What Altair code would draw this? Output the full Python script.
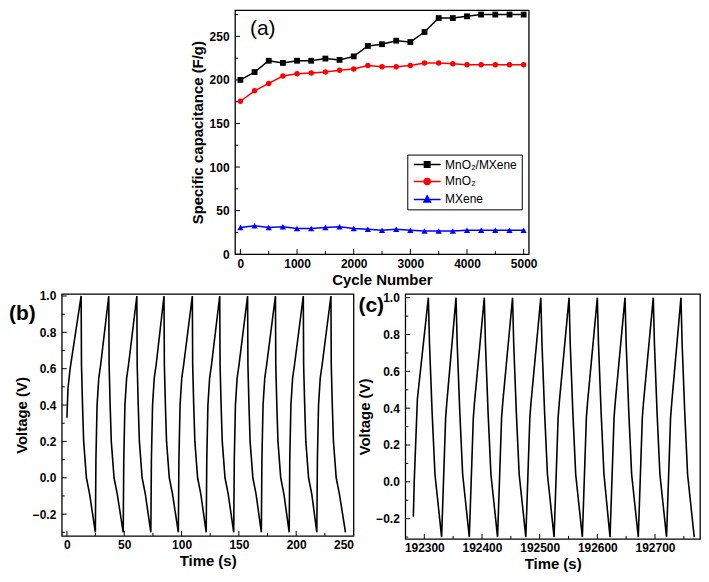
import altair as alt
import pandas as pd

FONT = "Liberation Sans"

# ---------------- panel (a) data ----------------
cycle_number = [0, 250, 500, 750, 1000, 1250, 1500, 1750, 2000, 2250, 2500,
                2750, 3000, 3250, 3500, 3750, 4000, 4250, 4500, 4750, 5000]
cap_mno2_mxene = [200, 209, 222, 219.5, 222, 222, 224.5, 223, 227, 239, 241,
                  245, 243.5, 255, 271, 271, 273, 275, 275, 275, 275]
cap_mno2 = [175.5, 187.5, 196, 204.5, 207, 208, 209, 211, 212.5, 216.5, 215,
            215, 216.5, 219.5, 219.5, 218.5, 217.5, 217.5, 217.5, 217.5, 217.5]
cap_mxene = [30.5, 32.5, 30.5, 31.5, 29.5, 29.5, 30.5, 31.5, 29.5, 28.5, 27.5,
             28.5, 27.5, 26.5, 26.5, 26.5, 27.5, 27.5, 27.5, 27.5, 27.5]
series_names = ["MnO₂/MXene", "MnO₂", "MXene"]
series_colors = ["#000000", "#ff0000", "#0000ff"]
series_shapes = ["square", "circle", "triangle-up"]
legend_paths = [
    "M-2.7,0H2.7M-0.55,-0.55H0.55V0.55H-0.55Z",
    "M-2.7,0H2.7M-0.6,0A0.6,0.6,0,1,1,0.6,0A0.6,0.6,0,1,1,-0.6,0Z",
    "M-2.7,0H2.7M0,-0.7L0.65,0.5H-0.65Z",
]

# ---------------- panel (b) data ----------------
b_time = [0.0, 0.9, 2.8, 12.4,
          12.7, 13.6, 14.6, 17.0, 19.8, 24.8, 25.3, 26.3, 27.8, 29.4, 36.5,
          36.8, 37.7, 38.7, 41.1, 43.9, 49.1, 49.6, 50.6, 52.1, 53.7, 61.0,
          61.3, 62.2, 63.2, 65.6, 68.4, 73.2, 73.7, 74.7, 76.2, 77.8, 84.7,
          85.0, 85.9, 86.9, 89.3, 92.1, 97.2, 97.7, 98.7, 100.2, 101.8, 109.4,
          109.7, 110.6, 111.6, 114.0, 116.8, 121.5, 122.0, 123.0, 124.5, 126.1, 133.3,
          133.6, 134.5, 135.5, 137.9, 140.7, 145.5, 146.0, 147.0, 148.5, 150.1, 157.6,
          157.9, 158.8, 159.8, 162.2, 165.0, 169.6, 170.1, 171.1, 172.6, 174.2, 181.9,
          182.2, 183.1, 184.1, 186.5, 189.3, 193.9, 194.4, 195.4, 196.9, 198.5, 206.2,
          206.5, 207.4, 208.4, 210.8, 213.6, 218.0, 218.5, 219.5, 221.0, 222.6, 230.3,
          230.6, 231.5, 232.5, 234.9, 237.7, 243.0]
b_volt = [0.33, 0.49, 0.60, 1.00,
          0.62, 0.40, 0.20, 0.00, -0.09, -0.30, 0.10, 0.40, 0.55, 0.62, 1.00,
          0.62, 0.40, 0.20, 0.00, -0.09, -0.30, 0.10, 0.40, 0.55, 0.62, 1.00,
          0.62, 0.40, 0.20, 0.00, -0.09, -0.30, 0.10, 0.40, 0.55, 0.62, 1.00,
          0.62, 0.40, 0.20, 0.00, -0.09, -0.30, 0.10, 0.40, 0.55, 0.62, 1.00,
          0.62, 0.40, 0.20, 0.00, -0.09, -0.30, 0.10, 0.40, 0.55, 0.62, 1.00,
          0.62, 0.40, 0.20, 0.00, -0.09, -0.30, 0.10, 0.40, 0.55, 0.62, 1.00,
          0.62, 0.40, 0.20, 0.00, -0.09, -0.30, 0.10, 0.40, 0.55, 0.62, 1.00,
          0.62, 0.40, 0.20, 0.00, -0.09, -0.30, 0.10, 0.40, 0.55, 0.62, 1.00,
          0.62, 0.40, 0.20, 0.00, -0.09, -0.30, 0.10, 0.40, 0.55, 0.62, 1.00,
          0.62, 0.40, 0.20, 0.00, -0.09, -0.30]

# ---------------- panel (c) data ----------------
c_time = [192281, 192282.5, 192288, 192307,
          192309, 192313.5, 192318.5, 192330, 192337, 192339, 192355,
          192357, 192361.5, 192366.5, 192378, 192385, 192387, 192404,
          192406, 192410.5, 192415.5, 192427, 192434, 192436, 192453,
          192455, 192459.5, 192464.5, 192476, 192483, 192485, 192502,
          192504, 192508.5, 192513.5, 192525, 192532, 192534, 192551,
          192553, 192557.5, 192562.5, 192574, 192581, 192583, 192600,
          192602, 192606.5, 192611.5, 192622, 192629, 192631, 192648,
          192650, 192654.5, 192659.5, 192671, 192678, 192680, 192697,
          192699, 192703.5, 192708.5, 192720, 192727, 192729, 192745,
          192747, 192751.5, 192756.5, 192768]
c_volt = [-0.19, 0.00, 0.45, 1.00,
          0.75, 0.38, 0.04, -0.30, 0.35, 0.43, 1.00,
          0.75, 0.38, 0.04, -0.30, 0.35, 0.43, 1.00,
          0.75, 0.38, 0.04, -0.30, 0.35, 0.43, 1.00,
          0.75, 0.38, 0.04, -0.30, 0.35, 0.43, 1.00,
          0.75, 0.38, 0.04, -0.30, 0.35, 0.43, 1.00,
          0.75, 0.38, 0.04, -0.30, 0.35, 0.43, 1.00,
          0.75, 0.38, 0.04, -0.30, 0.35, 0.43, 1.00,
          0.75, 0.38, 0.04, -0.30, 0.35, 0.43, 1.00,
          0.75, 0.38, 0.04, -0.30, 0.35, 0.43, 1.00,
          0.75, 0.38, 0.04, -0.30]

# tick values
a_x_major = [0, 1000, 2000, 3000, 4000, 5000]
a_x_minor = [500, 1500, 2500, 3500, 4500]
a_y_major = [0, 50, 100, 150, 200, 250]
a_y_minor = [25, 75, 125, 175, 225, 275]
b_x_major = [0, 50, 100, 150, 200, 250]
b_x_minor = [25, 75, 125, 175, 225]
v_major = [-0.2, 0.0, 0.2, 0.4, 0.6, 0.8, 1.0]
v_minor = [-0.3, -0.1, 0.1, 0.3, 0.5, 0.7, 0.9]
c_x_major = [192300, 192400, 192500, 192600, 192700]
c_x_minor = [192350, 192450, 192550, 192650, 192750]


def axis(title, values, fmt=None, label_pad=5, title_pad=3):
    kw = dict(title=title, values=values, ticks=False, tickSize=0, domain=False,
              grid=False, labelPadding=label_pad, titlePadding=title_pad)
    if fmt:
        kw["format"] = fmt
    return alt.Axis(**kw)


def inward_ticks(xf, xs, xax, xmaj, xmin, yf, ys, yax, ymaj, ymin, height):
    layers = []
    for vals, ln in ((xmaj, 5), (xmin, 3)):
        d = pd.DataFrame({xf: vals})
        layers.append(alt.Chart(d).mark_rule(color="black", strokeWidth=1).encode(
            x=alt.X(f"{xf}:Q", scale=xs, axis=xax),
            y=alt.value(height), y2=alt.value(height - ln)))
    for vals, ln in ((ymaj, 5), (ymin, 3)):
        d = pd.DataFrame({yf: vals})
        layers.append(alt.Chart(d).mark_rule(color="black", strokeWidth=1).encode(
            y=alt.Y(f"{yf}:Q", scale=ys, axis=yax),
            x=alt.value(0), x2=alt.value(ln)))
    return layers


def panel_label(text, x, y, size, weight):
    d = pd.DataFrame({"t": [text]})
    return alt.Chart(d).mark_text(align="left", baseline="top", font=FONT,
                                  fontSize=size, fontWeight=weight, color="black").encode(
        text="t:N", x=alt.value(x), y=alt.value(y))


# ---------------- panel (a) ----------------
rows = []
for name, vals in zip(series_names, [cap_mno2_mxene, cap_mno2, cap_mxene]):
    for cyc, v in zip(cycle_number, vals):
        rows.append({"cycle": cyc, "cap": v, "series": name})
df_a = pd.DataFrame(rows)

A_W, A_H = 295, 245
sx_a = alt.Scale(domain=[-95, 5090], nice=False, zero=False)
sy_a = alt.Scale(domain=[0, 280], nice=False, zero=False)
ax_a = axis("Cycle Number", a_x_major, fmt="d", label_pad=4, title_pad=3)
ay_a = axis("Specific capacitance (F/g)", a_y_major, label_pad=6, title_pad=4)
xa = alt.X("cycle:Q", scale=sx_a, axis=ax_a)
ya = alt.Y("cap:Q", scale=sy_a, axis=ay_a)

series_layers = []
for name, col, shp, sz in zip(series_names, series_colors, series_shapes, [34, 30, 40]):
    base = alt.Chart(df_a).transform_filter(alt.datum.series == name)
    series_layers.append(base.mark_line(color=col, strokeWidth=1.5).encode(x=xa, y=ya))
    series_layers.append(base.mark_point(shape=shp, filled=True, size=sz, opacity=1, color=col)
                         .encode(x=xa, y=ya))

# legend position is measured from the top-level origin
leg = alt.Legend(title=None, orient="none", legendX=347, legendY=145,
                 strokeColor="black", fillColor="white", padding=4,
                 labelFont=FONT, labelFontSize=12, labelColor="black",
                 symbolSize=100, symbolStrokeWidth=1.5, symbolOffset=10,
                 labelOffset=12, rowPadding=5, symbolOpacity=1)
col_scale = alt.Scale(domain=series_names, range=series_colors)
legend_layer = alt.Chart(df_a).mark_point(filled=True, opacity=0).encode(
    x=xa, y=ya,
    fill=alt.Fill("series:N", scale=col_scale, legend=leg),
    stroke=alt.Stroke("series:N", scale=col_scale, legend=leg),
    shape=alt.Shape("series:N", scale=alt.Scale(domain=series_names, range=legend_paths), legend=leg))

ticks_a = inward_ticks("cycle", sx_a, ax_a, a_x_major, a_x_minor, "cap", sy_a, ay_a, a_y_major, a_y_minor, A_H)
chart_a = alt.layer(*series_layers, legend_layer, *ticks_a,
                    panel_label("(a)", 15, 8, 21, "normal")).properties(width=A_W, height=A_H)

spacer = alt.Chart(pd.DataFrame({"s": [0]})).mark_point(size=0, opacity=0).encode(
    x=alt.value(0), y=alt.value(0)).properties(
    width=1, height=1, view=alt.ViewBackground(stroke="transparent"))

# ---------------- panel (b) ----------------
B_W, B_H = 293, 243
df_b = pd.DataFrame({"time": b_time, "volt": b_volt})
sx_b = alt.Scale(domain=[-4.5, 250], nice=False, zero=False)
sy_b = alt.Scale(domain=[-0.32, 1.011], nice=False, zero=False)
ax_b = axis("Time (s)", b_x_major, label_pad=4, title_pad=3)
ay_b = axis("Voltage (V)", v_major, fmt=".1f", label_pad=6, title_pad=3)
line_b = alt.Chart(df_b).mark_line(color="black", strokeWidth=1.6).encode(
    x=alt.X("time:Q", scale=sx_b, axis=ax_b),
    y=alt.Y("volt:Q", scale=sy_b, axis=ay_b))
ticks_b = inward_ticks("time", sx_b, ax_b, b_x_major, b_x_minor, "volt", sy_b, ay_b, v_major, v_minor, B_H)
chart_b = alt.layer(line_b, *ticks_b, panel_label("(b)", -53, 9, 21, "bold")).properties(width=B_W, height=B_H)

# ---------------- panel (c) ----------------
C_W, C_H = 296, 246
df_c = pd.DataFrame({"time": c_time, "volt": c_volt})
sx_c = alt.Scale(domain=[192267, 192778], nice=False, zero=False)
sy_c = alt.Scale(domain=[-0.31, 1.02], nice=False, zero=False)
ax_c = axis("Time (s)", c_x_major, fmt="d", label_pad=4, title_pad=3)
ay_c = axis("Voltage (V)", v_major, fmt=".1f", label_pad=6, title_pad=3)
line_c = alt.Chart(df_c).mark_line(color="black", strokeWidth=1.6).encode(
    x=alt.X("time:Q", scale=sx_c, axis=ax_c),
    y=alt.Y("volt:Q", scale=sy_c, axis=ay_c))
ticks_c = inward_ticks("time", sx_c, ax_c, c_x_major, c_x_minor, "volt", sy_c, ay_c, v_major, v_minor, C_H)
chart_c = alt.layer(line_c, *ticks_c, panel_label("(c)", -47, 1, 21, "bold")).properties(width=C_W, height=C_H)

row1 = alt.hconcat(spacer, chart_a, spacing=126)
row2 = alt.hconcat(chart_b, chart_c, spacing=1)

chart = alt.vconcat(row1, row2, spacing=1).properties(
    padding=0, background="white"
).configure_view(
    stroke="black", strokeWidth=1.3
).configure_axis(
    labelFont=FONT, labelFontSize=12, labelFontWeight="bold", labelColor="black",
    titleFont=FONT, titleFontSize=15, titleFontWeight="bold", titleColor="black"
)

chart.save("out.html", embed_options={"renderer": "svg", "actions": False})
